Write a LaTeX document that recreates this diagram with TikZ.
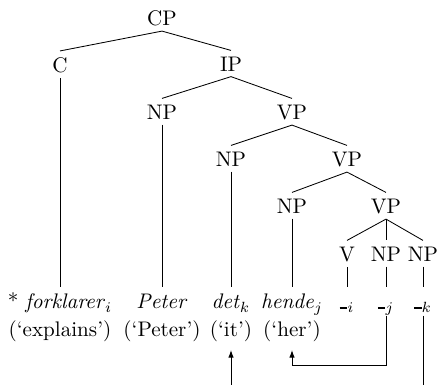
\documentclass[tikz,border=0pt]{standalone}
\usetikzlibrary{arrows.meta}
\begin{document}
\begin{tikzpicture}[x=0.016667cm, y=-0.016667cm,
  cat/.style={anchor=base, inner sep=2pt},
  word/.style={anchor=base, inner sep=2pt, text height=7pt, text depth=1pt},
  gloss/.style={anchor=base, inner sep=2pt},
  trace/.style={-{Latex[length=3.6pt,width=2.6pt]}, shorten >=1.5pt}]
% canvas
\clip (0,0) rectangle (438,385);
\newcommand{\gap}[1]{\rule[0.2pt]{3.6pt}{0.9pt}$_{#1}$}
% category labels
\node[cat] (cp)  at (162,26)  {CP};
\node[cat] (c)   at (60,73)   {C};
\node[cat] (ip)  at (231,72)  {IP};
\node[cat] (npa) at (162,120) {NP};
\node[cat] (vpa) at (292,120) {VP};
\node[cat] (npb) at (231,167) {NP};
\node[cat] (vpb) at (347,167) {VP};
\node[cat] (npc) at (292,214) {NP};
\node[cat] (vpc) at (386,214) {VP};
\node[cat] (v)   at (347,262) {V};
\node[cat] (npd) at (386,262) {NP};
\node[cat] (npe) at (423,262) {NP};
% words
\node[word] (w1) at (60,309)  {* \textit{forklarer}$_i$};
\node[word] (w2) at (162,309) {\textit{Peter}};
\node[word] (w3) at (231,309) {\textit{det}$_k$};
\node[word] (w4) at (292,309) {\textit{hende}$_j$};
\node[word] (wi) at (347,309) {\gap{i}};
\node[word] (wj) at (386,309) {\gap{j}};
\node[word] (wk) at (423,309) {\gap{k}};
% glosses
\node[gloss] (g1) at (60,337)  {(‘explains’)};
\node[gloss] (g2) at (162,337) {(‘Peter’)};
\node[gloss] (g3) at (231,337) {(‘it’)};
\node[gloss] (g4) at (292,337) {(‘her’)};
% branches
\foreach \p/\q in {cp/c, cp/ip, ip/npa, ip/vpa, vpa/npb, vpa/vpb,
                   vpb/npc, vpb/vpc, vpc/v, vpc/npd, vpc/npe}
  \draw (\p.south) -- ([yshift=1.2pt]\q.north);
\foreach \p/\q in {c/w1, npa/w2, npb/w3, npc/w4, v/wi, npd/wj, npe/wk}
  \draw (\p.south) -- ([yshift=1.2pt]\q.north);
% movement traces
\coordinate (barj) at (0,365);
\coordinate (bark) at (0,400);
\draw[trace] (wj.south) -- (wj.south |- barj) -| (g4.south);
\draw[trace] (wk.south) -- (wk.south |- bark) -| (g3.south);
\end{tikzpicture}
\end{document}
